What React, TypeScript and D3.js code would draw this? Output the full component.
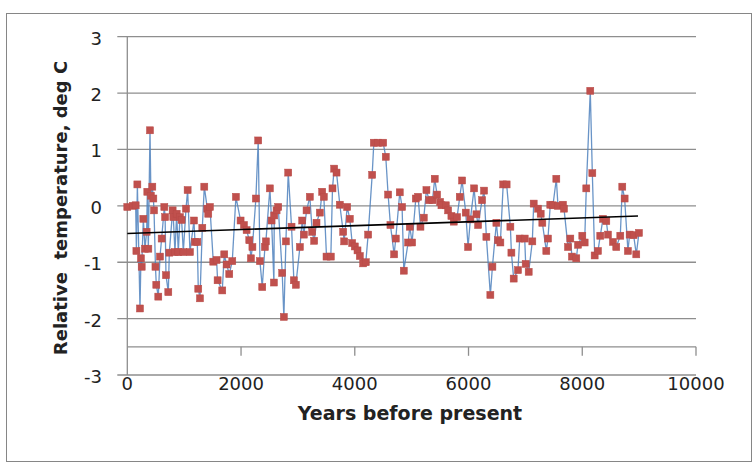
import React from 'react';
import * as d3 from 'd3';

// years before present
const years = [
  0, 100, 147, 160, 177, 223, 240, 253, 282, 311, 340, 352, 370, 399, 415, 440, 458, 470, 495, 510,
  545, 575, 604, 651, 665, 680, 721, 739, 797, 809, 838, 868, 897, 926, 955, 985, 1032, 1061, 1102, 1172,
  1190, 1231, 1248, 1278, 1319, 1354, 1407, 1424, 1453, 1512, 1570, 1588, 1670, 1705, 1746, 1793, 1846, 1910, 1992, 2051,
  2098, 2145, 2174, 2200, 2261, 2302, 2332, 2373, 2420, 2437, 2507, 2537, 2578, 2584, 2625, 2654, 2724, 2753, 2789, 2830,
  2888, 2929, 2964, 3035, 3076, 3105, 3152, 3210, 3251, 3286, 3327, 3386, 3427, 3456, 3503, 3579, 3608, 3638, 3679, 3737,
  3796, 3814, 3866, 3913, 3954, 4001, 4048, 4089, 4148, 4194, 4235, 4306, 4335, 4411, 4499, 4545, 4586, 4627, 4692, 4721,
  4791, 4832, 4862, 4938, 4967, 5008, 5073, 5114, 5155, 5213, 5260, 5307, 5366, 5406, 5447, 5500, 5524, 5600, 5641, 5699,
  5740, 5799, 5846, 5887, 5951, 5992, 6033, 6098, 6139, 6168, 6238, 6273, 6314, 6384, 6420, 6490, 6519, 6560, 6610, 6670,
  6736, 6754, 6794, 6870, 6900, 6988, 7005, 7058, 7122, 7146, 7222, 7269, 7298, 7368, 7397, 7438, 7485, 7544, 7573, 7661,
  7679, 7749, 7790, 7819, 7895, 7925, 8001, 8042, 8071, 8141, 8177, 8218, 8276, 8317, 8364, 8423, 8452, 8540, 8598, 8669,
  8704, 8745, 8803, 8833, 8903, 8950, 8997,
];

// relative temperature, deg C
const temps = [
  -0.02, 0.0, 0.01, -0.8, 0.38, -1.82, -0.93, -1.08, -0.23, -0.76, -0.46, 0.25, -0.76, 1.34, 0.18, 0.34, 0.13, -0.08, -1.08, -1.4,
  -1.61, -0.9, -0.58, -0.02, -0.2, -1.23, -1.53, -0.83, -0.08, -0.2, -0.82, -0.14, -0.82, -0.2, -0.25, -0.82, -0.05, 0.28, -0.82, -0.26,
  -0.64, -0.64, -1.47, -1.64, -0.39, 0.34, -0.05, -0.14, -0.02, -0.99, -0.96, -1.32, -1.5, -0.86, -1.04, -1.21, -0.98, 0.16, -0.26, -0.34,
  -0.43, -0.61, -0.93, -0.73, 0.13, 1.16, -0.98, -1.44, -0.73, -0.63, 0.31, -0.26, -1.36, -0.17, -0.08, -0.02, -1.19, -1.97, -0.63, 0.59,
  -0.37, -1.32, -1.4, -0.73, -0.26, -0.51, -0.08, 0.16, -0.46, -0.62, -0.3, -0.12, 0.25, 0.16, -0.9, -0.9, 0.31, 0.66, 0.59, 0.02,
  -0.46, -0.63, -0.02, -0.23, -0.66, -0.72, -0.79, -0.89, -1.02, -1.0, -0.51, 0.55, 1.12, 1.12, 1.12, 0.87, 0.2, -0.34, -0.86, -0.58,
  0.24, -0.02, -1.15, -0.65, -0.37, -0.65, 0.13, 0.16, -0.37, -0.21, 0.28, 0.1, 0.1, 0.48, 0.2, 0.07, 0.01, 0.01, -0.08, -0.18,
  -0.28, -0.2, 0.16, 0.45, -0.12, -0.73, -0.24, 0.31, -0.15, -0.34, 0.1, 0.27, -0.55, -1.58, -1.08, -0.3, -0.61, -0.65, 0.38, 0.38,
  -0.37, -0.83, -1.29, -1.14, -0.58, -0.58, -1.03, -1.17, -0.63, 0.04, -0.05, -0.14, -0.3, -0.8, -0.58, 0.02, 0.01, 0.48, 0.0, 0.02,
  -0.05, -0.73, -0.58, -0.9, -0.93, -0.69, -0.53, -0.65, 0.31, 2.04, 0.58, -0.88, -0.8, -0.53, -0.23, -0.27, -0.51, -0.64, -0.73, -0.53,
  0.34, 0.13, -0.8, -0.51, -0.52, -0.86, -0.48,
];

// linear trend line, end points
const trendYears = [0, 8980];
const trendTemps = [-0.49, -0.18];

const yTicks = [3, 2, 1, 0, -1, -2, -3];
const xTicks = [0, 2000, 4000, 6000, 8000, 10000];

const W = 755;
const H = 466;
const left = 127.3;
const right = 696;
const top = 36.7;
const bottom = 375;

const font = "'DejaVu Sans', sans-serif";

const App = () => {
  const x = d3.scaleLinear().domain([0, 10000]).range([left, right]);
  const y = d3.scaleLinear().domain([-3, 3]).range([bottom, top]);
  const axisY = y(-2.5); // horizontal axis crosses at -2.5

  const pts = years.map((yr, i) => [yr, temps[i]] as [number, number]);
  const line = d3.line<[number, number]>()
    .x(d => x(d[0]))
    .y(d => y(d[1]));

  const trend = trendYears.map((yr, i) => [yr, trendTemps[i]] as [number, number]);

  return (
    <svg width={W} height={H} style={{ position: 'absolute', left: 0, top: 0, background: '#fff' }}>
      <rect x={6.5} y={13.5} width={745} height={448} fill="#fff" stroke="#868686" strokeWidth={1} />

      {/* gridlines */}
      {yTicks.map(t => (
        <line key={t} x1={left - 10} x2={right} y1={y(t)} y2={y(t)} stroke="#8e8e8e" strokeWidth={1.3} />
      ))}
      {/* y axis */}
      <line x1={left} x2={left} y1={top} y2={bottom} stroke="#8e8e8e" strokeWidth={1.3} />
      {/* x axis */}
      <line x1={left} x2={right} y1={axisY} y2={axisY} stroke="#8e8e8e" strokeWidth={1.3} />
      {xTicks.filter(t => t > 0).map(t => (
        <line key={t} x1={x(t)} x2={x(t)} y1={axisY} y2={axisY + 9} stroke="#8e8e8e" strokeWidth={1.3} />
      ))}

      {yTicks.map(t => (
        <text key={t} x={102} y={y(t) + 3} textAnchor="end" dominantBaseline="middle"
          fontFamily={font} fontSize={18} fill="#222">{t}</text>
      ))}
      {xTicks.map(t => (
        <text key={t} x={x(t)} y={390} textAnchor="middle"
          fontFamily={font} fontSize={18} fill="#222">{t}</text>
      ))}

      <path d={line(pts) || ''} fill="none" stroke="#4f81bd" strokeWidth={1.3} strokeOpacity={0.85} />
      {pts.map((d, i) => (
        <rect key={i} x={x(d[0]) - 3.5} y={y(d[1]) - 3.5} width={7} height={7}
          fill="#c0504d" stroke="#b84a47" strokeWidth={0.5} />
      ))}
      <path d={line(trend) || ''} fill="none" stroke="#000" strokeWidth={1.6} />

      <text x={410} y={420} textAnchor="middle" fontFamily={font} fontSize={19} fontWeight="bold" fill="#222">
        Years before present
      </text>
      <text transform="translate(67,208) rotate(-90)" textAnchor="middle" fontFamily={font} fontSize={18}
        fontWeight="bold" fill="#222" style={{ whiteSpace: 'pre' }}>
        {'Relative  temperature, deg C'}
      </text>
    </svg>
  );
};

export default App;
